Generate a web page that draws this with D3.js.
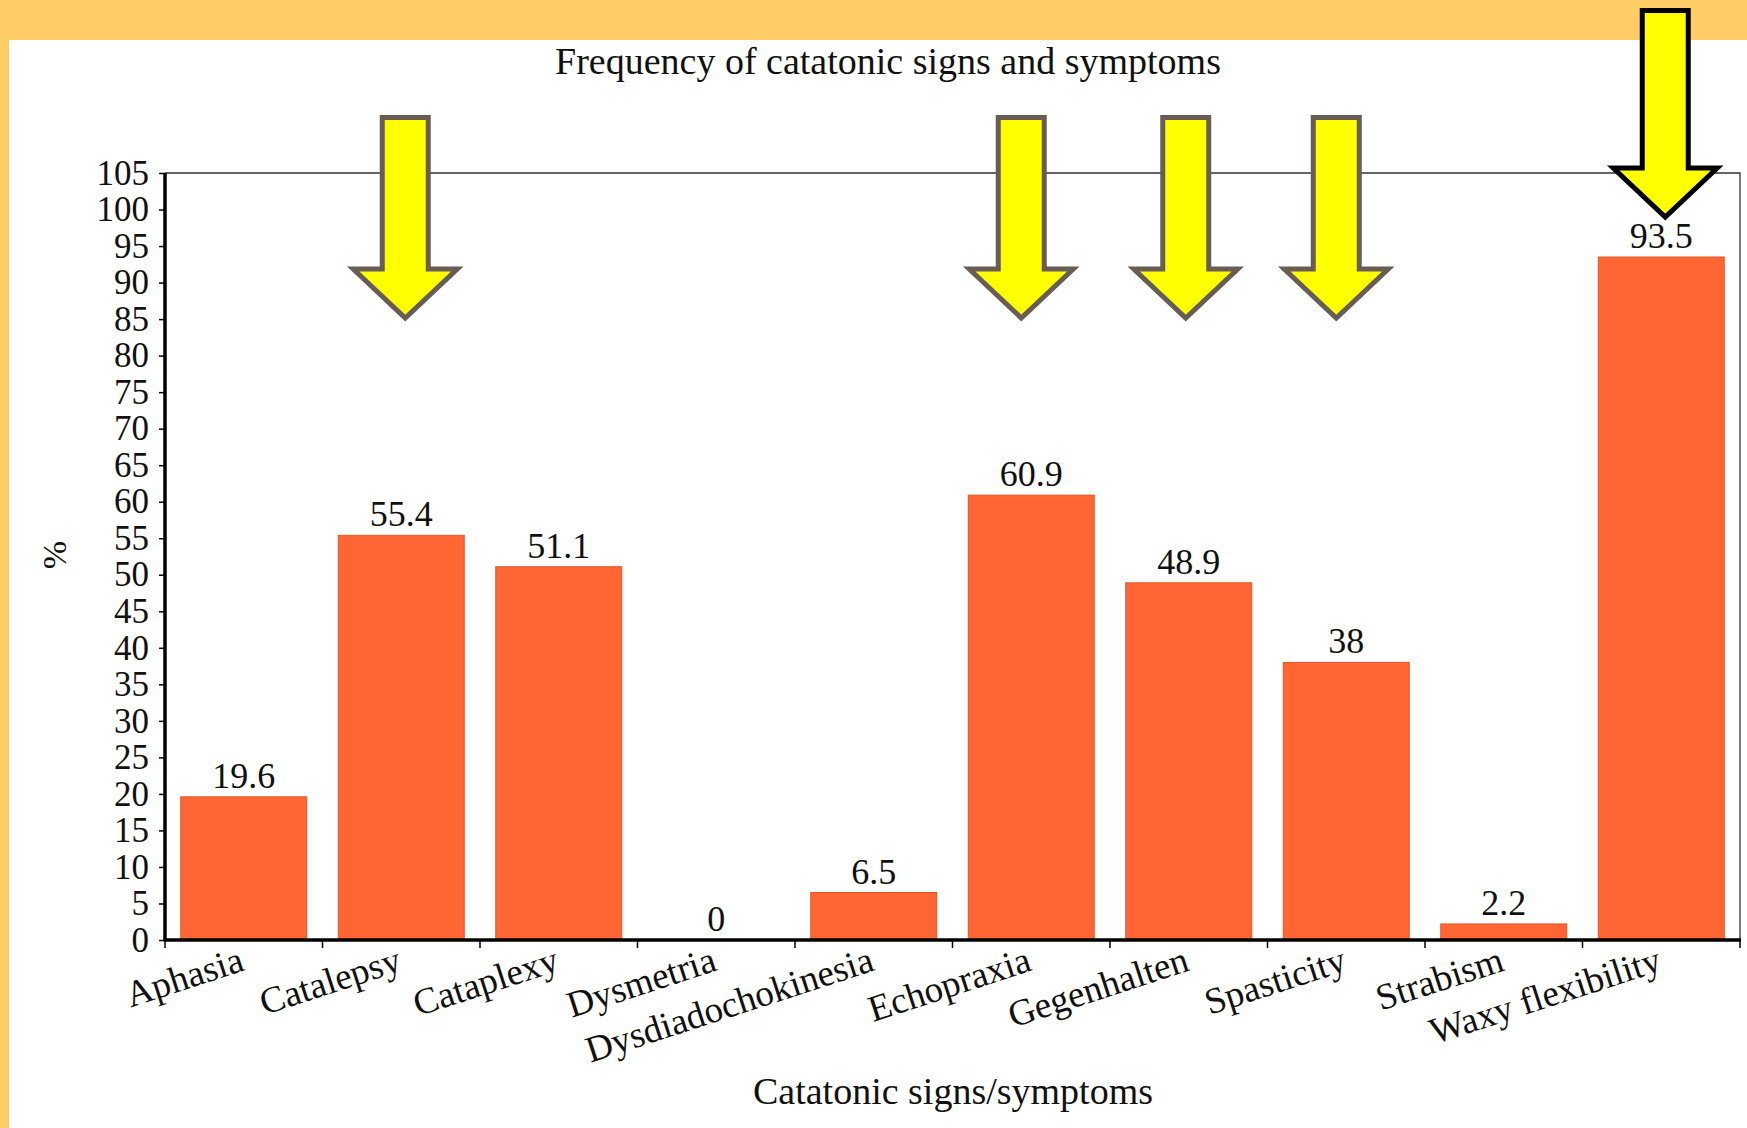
<!DOCTYPE html>
<html>
<head>
<meta charset="utf-8">
<script src="https://cdn.jsdelivr.net/npm/d3@7"></script>
<style>
  html, body { margin: 0; padding: 0; background: #FFCC66; }
  svg { display: block; }
  text { font-family: "Liberation Serif", "Times New Roman", serif; fill: #111; }
</style>
</head>
<body>
<svg id="chart" width="1747" height="1128"></svg>
<script>
// Frequency (%) of each catatonic sign/symptom
const categories = ["Aphasia", "Catalepsy", "Cataplexy", "Dysmetria", "Dysdiadochokinesia",
                    "Echopraxia", "Gegenhalten", "Spasticity", "Strabism", "Waxy flexibility"];
const frequencies = [19.6, 55.4, 51.1, 0, 6.5, 60.9, 48.9, 38, 2.2, 93.5];
const yTicks = [0, 5, 10, 15, 20, 25, 30, 35, 40, 45, 50, 55, 60, 65, 70, 75, 80, 85, 90, 95, 100, 105];
// Signs pointed out with arrows
const highlighted = ["Catalepsy", "Echopraxia", "Gegenhalten", "Spasticity", "Waxy flexibility"];

const W = 1747, H = 1128;
const plot = { left: 165, right: 1740, top: 173, bottom: 940 };

const svg = d3.select("#chart");

// page background: orange frame with white panel
svg.append("rect").attr("x", 0).attr("y", 0).attr("width", W).attr("height", H).attr("fill", "#FFCC66");
svg.append("rect").attr("x", 9).attr("y", 40).attr("width", W - 9).attr("height", H - 40).attr("fill", "#FFFFFF");

const x = d3.scaleBand().domain(categories).range([plot.left, plot.right])
  .paddingInner(0.2).paddingOuter(0.1);
const y = d3.scaleLinear().domain([0, 105]).range([plot.bottom, plot.top]);

// plot frame (top and right edges)
svg.append("path")
  .attr("d", `M${plot.left},${plot.top}H${plot.right}V${plot.bottom}`)
  .attr("fill", "none").attr("stroke", "#333").attr("stroke-width", 1.3);

// bars
svg.append("g").selectAll("rect").data(categories).join("rect")
  .attr("x", d => x(d))
  .attr("y", (d, i) => y(frequencies[i]))
  .attr("width", x.bandwidth())
  .attr("height", (d, i) => y(0) - y(frequencies[i]))
  .attr("fill", "#FF6633")
  .attr("stroke", "#E2572A")
  .attr("stroke-width", 1);

// value labels
svg.append("g").selectAll("text").data(categories).join("text")
  .attr("x", d => x(d) + x.bandwidth() / 2)
  .attr("y", (d, i) => y(frequencies[i]) - 9)
  .attr("text-anchor", "middle")
  .style("font-size", "36px")
  .text((d, i) => String(frequencies[i]));

// y axis
const yAxis = d3.axisLeft(y).tickValues(yTicks).tickSize(6).tickPadding(10).tickFormat(d3.format("d"));
const gy = svg.append("g").attr("transform", `translate(${plot.left},0)`).call(yAxis);
gy.select(".domain").attr("stroke", "#000").attr("stroke-width", 3.5).attr("d", `M0,${plot.bottom + 1}V${plot.top}`);
gy.selectAll(".tick line").attr("stroke", "#000").attr("stroke-width", 1.5);
gy.selectAll(".tick text").style("font-size", "35px").style("font-family", "Liberation Serif").attr("fill", "#111");

// x axis: baseline with ticks on category boundaries
const step = x.step();
const boundaries = d3.range(categories.length + 1).map(i =>
  i < categories.length ? x(categories[i]) - step * x.paddingInner() / 2 : plot.right);
const gx = svg.append("g");
gx.append("line").attr("x1", plot.left - 1.5).attr("x2", plot.right + 1)
  .attr("y1", plot.bottom).attr("y2", plot.bottom)
  .attr("stroke", "#000").attr("stroke-width", 3.5);
gx.selectAll("line.tk").data(boundaries).join("line").attr("class", "tk")
  .attr("x1", d => d).attr("x2", d => d)
  .attr("y1", plot.bottom).attr("y2", plot.bottom + 8)
  .attr("stroke", "#000").attr("stroke-width", 1.5);

// rotated category labels
gx.selectAll("text").data(categories).join("text")
  .attr("transform", d => `translate(${x(d) + x.bandwidth() / 2 + 2},${plot.bottom + 30}) rotate(-18)`)
  .attr("text-anchor", "end")
  .style("font-size", "37px")
  .text(d => d);

// titles
svg.append("text").attr("x", 888).attr("y", 74).attr("text-anchor", "middle")
  .style("font-size", "38px").text("Frequency of catatonic signs and symptoms");
svg.append("text").attr("x", 953).attr("y", 1104).attr("text-anchor", "middle")
  .style("font-size", "38px").text("Catatonic signs/symptoms");
svg.append("text").attr("transform", "translate(66,555) rotate(-90)").attr("text-anchor", "middle")
  .style("font-size", "34px").text("%");

// highlight arrows
const arrowStyle = {
  "Catalepsy":        { dx: 4,   top: 117.5, tip: 318, stroke: "#675D55" },
  "Echopraxia":       { dx: -10, top: 117.5, tip: 318, stroke: "#675D55" },
  "Gegenhalten":      { dx: -3,  top: 117.5, tip: 318, stroke: "#675D55" },
  "Spasticity":       { dx: -10, top: 117.5, tip: 318, stroke: "#675D55" },
  "Waxy flexibility": { dx: 4,   top: 10.5,  tip: 217, stroke: "#000000" }
};
function arrowPath(cx, top, tip) {
  const shaft = 23, head = 52, headH = 49;
  const base = tip - headH;
  return `M${cx - shaft},${top}H${cx + shaft}V${base}H${cx + head}L${cx},${tip}L${cx - head},${base}H${cx - shaft}Z`;
}
svg.append("g").selectAll("path").data(highlighted).join("path")
  .attr("d", d => {
    const s = arrowStyle[d];
    return arrowPath(x(d) + x.bandwidth() / 2 + s.dx, s.top, s.tip);
  })
  .attr("fill", "#FFFF00")
  .attr("stroke", d => arrowStyle[d].stroke)
  .attr("stroke-width", 5)
  .attr("stroke-linejoin", "miter");
</script>
</body>
</html>
